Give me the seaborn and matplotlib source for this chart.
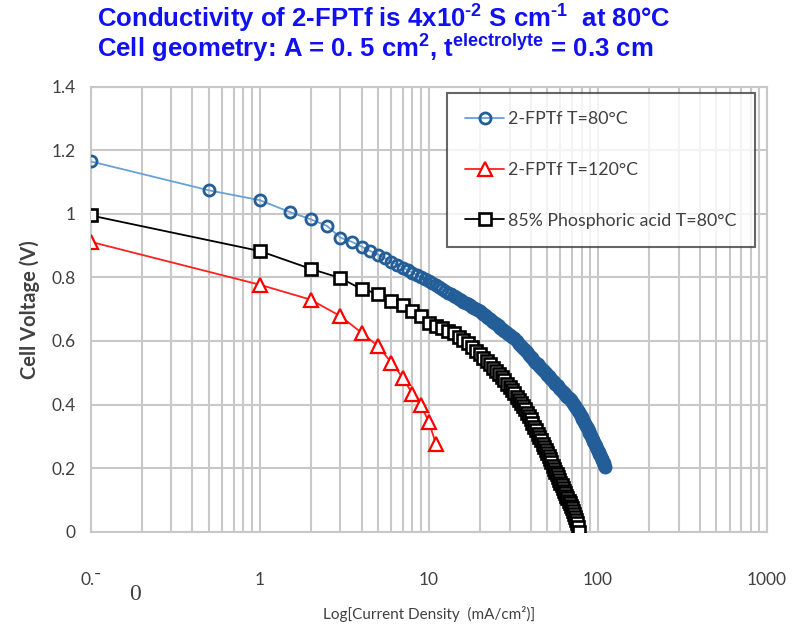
import matplotlib
matplotlib.use("Agg")
import matplotlib.pyplot as plt
import seaborn as sns
import pandas as pd
from matplotlib.ticker import FixedLocator, NullFormatter


# Data (current density mA/cm2, cell voltage V)
fptf80_x = [0.1, 0.5, 1, 1.5, 2, 2.5, 3, 3.5, 4, 4.5, 5, 5.5, 6, 6.5, 7, 7.5, 8, 8.5, 9, 9.5,
            10, 10.5, 11, 11.5, 12, 12.5, 13, 13.5, 14, 14.5, 15, 15.5, 16, 16.5, 17, 17.5,
            18, 18.5, 19, 19.5, 20, 20.5, 21, 21.5, 22, 22.5, 23, 23.5, 24, 24.5, 25, 25.5,
            26, 26.5, 27, 27.5, 28, 28.5, 29, 29.5, 30,
            31, 32, 33, 34, 35, 36, 37, 38, 39, 40, 41, 42, 43, 44, 45, 46, 47, 48, 49, 50,
            51, 52, 53, 54, 55, 56, 57, 58, 59, 60, 61, 62, 63, 64, 65, 66, 67, 68, 69, 70,
            71, 72, 73, 74, 75, 76, 77, 78, 79, 80, 81, 82, 83, 84, 85, 86, 87, 88, 89, 90,
            91, 92, 93, 94, 95, 96, 97, 98, 99, 100, 101, 102, 103, 104, 105, 106, 107, 108, 109, 110]
fptf80_v = [1.165, 1.074, 1.043, 1.006, 0.983, 0.962, 0.925, 0.912, 0.897, 0.883, 0.872, 0.860, 0.850,
            0.840, 0.831, 0.823, 0.815, 0.808, 0.800, 0.794,
            0.788, 0.781, 0.775, 0.769, 0.763, 0.757, 0.752, 0.747, 0.742, 0.737, 0.733, 0.728,
            0.724, 0.720, 0.716, 0.712, 0.708, 0.704, 0.701, 0.697, 0.694, 0.689, 0.685, 0.681,
            0.677, 0.672, 0.668, 0.664, 0.661, 0.657, 0.653, 0.649, 0.646, 0.642, 0.639, 0.635,
            0.632, 0.629, 0.626, 0.622, 0.619,
            0.613, 0.608, 0.600, 0.592, 0.585, 0.578, 0.571, 0.564, 0.557, 0.551,
            0.545, 0.538, 0.532, 0.526, 0.520, 0.515, 0.509, 0.504, 0.499, 0.494,
            0.489, 0.484, 0.479, 0.474, 0.470, 0.465, 0.461, 0.457, 0.452, 0.448,
            0.444, 0.440, 0.436, 0.432, 0.428, 0.424, 0.420, 0.417, 0.413, 0.409,
            0.405, 0.400, 0.395, 0.390, 0.385, 0.380, 0.375, 0.370, 0.365, 0.360,
            0.355, 0.350, 0.345, 0.340, 0.334, 0.328, 0.323, 0.317, 0.312, 0.306,
            0.301, 0.295, 0.290, 0.285, 0.280, 0.275, 0.270, 0.265, 0.260, 0.255,
            0.250, 0.245, 0.240, 0.235, 0.230, 0.225, 0.220, 0.215, 0.210, 0.205]

fptf120_x = [0.1, 1, 2, 3, 4, 5, 6, 7, 8, 9, 10, 11]
fptf120_v = [0.912, 0.777, 0.730, 0.678, 0.626, 0.584, 0.532, 0.485, 0.433, 0.397, 0.345, 0.277]

acid_x = [0.1, 1, 2, 3, 4, 5, 6, 7, 8, 9, 10, 11, 12, 13, 14, 15, 16, 17, 18, 19, 20,
          21, 22, 23, 24, 25, 26, 27, 28, 29, 30, 31, 32, 33, 34, 35, 36, 37, 38, 39, 40,
          41, 42, 43, 44, 45, 46, 47, 48, 49, 50, 51, 52, 53, 54, 55, 56, 57, 58, 59, 60,
          61, 62, 63, 64, 65, 66, 67, 68, 69, 70, 71, 72, 73, 74, 75, 76, 77]
acid_v = [0.995, 0.883, 0.827, 0.798, 0.763, 0.749, 0.727, 0.712, 0.694, 0.678, 0.657,
          0.648, 0.640, 0.632, 0.624, 0.613, 0.603, 0.594, 0.582, 0.570, 0.558,
          0.548, 0.537, 0.527, 0.516, 0.506, 0.497, 0.486, 0.476, 0.465, 0.455,
          0.445, 0.435, 0.425, 0.415, 0.405, 0.395, 0.385, 0.374, 0.364, 0.354,
          0.342, 0.330, 0.319, 0.308, 0.297, 0.287, 0.277, 0.267, 0.258, 0.248,
          0.238, 0.228, 0.218, 0.208, 0.198, 0.189, 0.180, 0.171, 0.162, 0.154,
          0.146, 0.137, 0.129, 0.121, 0.113, 0.105, 0.097, 0.089, 0.081, 0.073,
          0.064, 0.055, 0.046, 0.036, 0.026, 0.015, 0.0]

series_labels = ["2-FPTf T=80°C", "2-FPTf T=120°C", "85% Phosphoric acid T=80°C"]
x_ticks = [0.1, 1, 10, 100, 1000]
x_ticklabels = ["0.ˉ", "1", "10", "100", "1000"]
y_ticks = [0, 0.2, 0.4, 0.6, 0.8, 1.0, 1.2, 1.4]
y_ticklabels = ["0", "0.2", "0.4", "0.6", "0.8", "1", "1.2", "1.4"]

sns.set_style("white")
plt.rcParams['font.family'] = ['Lato', 'DejaVu Sans']
plt.rcParams['mathtext.fontset'] = 'custom'
plt.rcParams['mathtext.rm'] = 'Liberation Sans:bold'
plt.rcParams['mathtext.bf'] = 'Liberation Sans:bold'

fig = plt.figure(figsize=(7.99, 6.31), dpi=100)
ax = fig.add_axes([0.1135, 0.1574, 0.8465, 0.7052])

df80 = pd.DataFrame({'x': fptf80_x, 'v': fptf80_v})
df120 = pd.DataFrame({'x': fptf120_x, 'v': fptf120_v})
dfacid = pd.DataFrame({'x': acid_x, 'v': acid_v})

sns.lineplot(data=df80, x='x', y='v', ax=ax, sort=False, estimator=None,
             color='#6A9FD8', lw=1.3, marker='o', markersize=8,
             markerfacecolor='none', markeredgecolor='#245E98', markeredgewidth=2.0,
             label=series_labels[0], zorder=5)
sns.lineplot(data=df120, x='x', y='v', ax=ax, sort=False, estimator=None,
             color='#FF2020', lw=1.3, marker='^', markersize=9.5,
             markerfacecolor='white', markeredgecolor='#FF0000', markeredgewidth=1.6,
             label=series_labels[1], zorder=4)
sns.lineplot(data=dfacid, x='x', y='v', ax=ax, sort=False, estimator=None,
             color='black', lw=1.3, marker='s', markersize=8.2,
             markerfacecolor='white', markeredgecolor='black', markeredgewidth=1.9,
             label=series_labels[2], zorder=3)

ax.set_xscale('log')
ax.set_xlim(0.1, 1000)
ax.set_ylim(0, 1.4)
ax.xaxis.set_major_locator(FixedLocator(x_ticks))
ax.set_xticklabels(x_ticklabels)
ax.xaxis.set_minor_locator(FixedLocator([m * 10.0 ** e for e in range(-1, 3) for m in range(2, 10)]))
ax.xaxis.set_minor_formatter(NullFormatter())
ax.set_yticks(y_ticks)
ax.set_yticklabels(y_ticklabels)

ax.grid(True, which='both', axis='x', color='#C8C8C8', lw=1.5)
ax.grid(True, which='major', axis='y', color='#C8C8C8', lw=1.5)
for s in ax.spines.values():
    s.set_color('#C8C8C8')
    s.set_linewidth(1.5)

ax.tick_params(axis='y', which='major', length=5, width=1.5, color='#C8C8C8',
               labelsize=12.5, labelcolor='#404040', pad=6)
ax.tick_params(axis='x', which='both', length=0, labelsize=12.5, labelcolor='#404040', pad=29)

ax.set_xlabel("Log[Current Density  (mA/cm²)]", fontsize=11, color='#404040', labelpad=13)
ax.set_ylabel("Cell Voltage (V)", fontsize=14.5, color='#404040', fontweight='bold', labelpad=8)

leg = ax.legend(loc='upper right', bbox_to_anchor=(0.9823, 0.9865), frameon=True, fancybox=False,
                edgecolor='#404040', fontsize=12.8, labelspacing=1.95, borderpad=1.05,
                handlelength=2.2, handletextpad=0.2, borderaxespad=0)
leg.get_frame().set_linewidth(1.5)
for t in leg.get_texts():
    t.set_color('#404040')

# stray character below the first tick label in the original
fig.text(135 / 799, 1 - 595 / 631, "0", family='Liberation Serif', fontsize=17,
         color='#404040', ha='center', va='center')

blue = '#1010F0'
fig.text(97 / 799, 1 - 18 / 631,
         "Conductivity of 2-FPTf is 4x10$^{\u2010 2}$ S cm$^{\u2010 1}$  at 80°C",
         family=['Liberation Sans', 'DejaVu Sans'], fontweight='bold', fontsize=18.5, color=blue,
         ha='left', va='center')
fig.text(97 / 799, 1 - 48 / 631,
         "Cell geometry: A = 0. 5 cm$^{2}$, t$^{\\mathrm{electrolyte}}$ = 0.3 cm",
         family=['Liberation Sans', 'DejaVu Sans'], fontweight='bold', fontsize=18.5, color=blue,
         ha='left', va='center')

fig.savefig("out.png", dpi=100)
